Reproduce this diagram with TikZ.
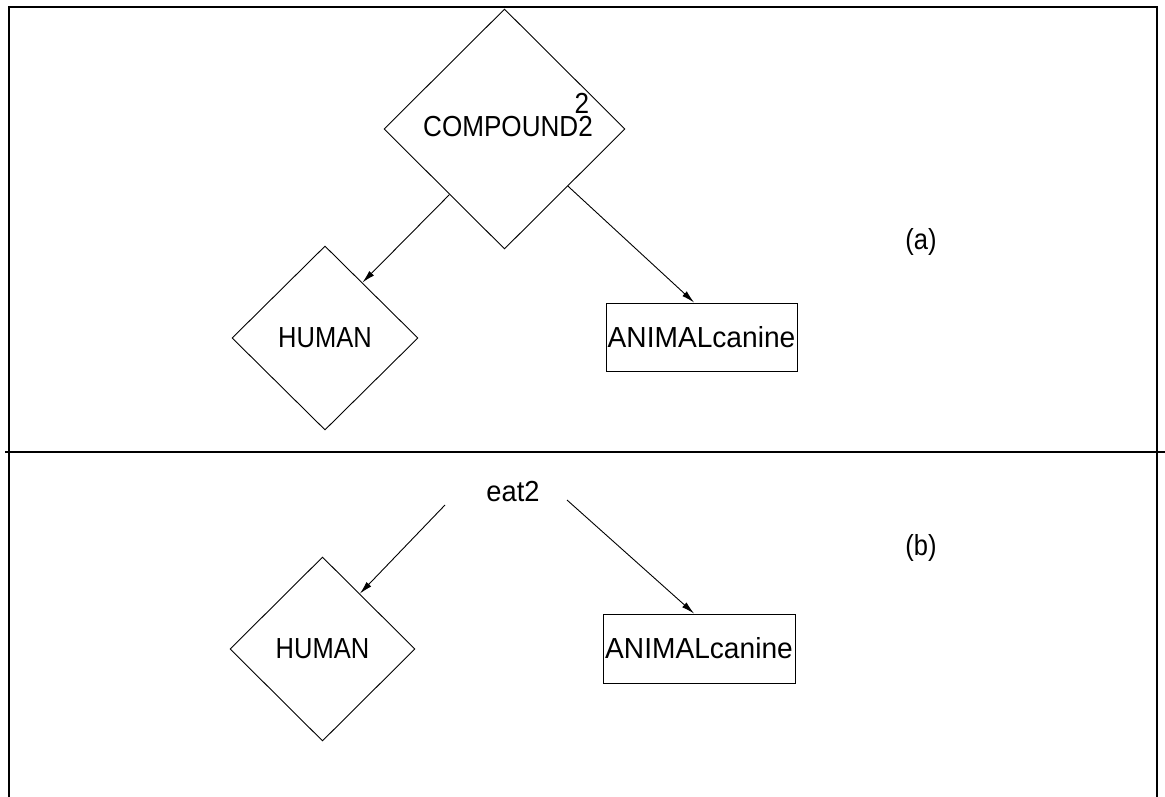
\documentclass[tikz,border=0pt]{standalone}
\usepackage{fontspec}
\setmainfont{Liberation Sans}
\usetikzlibrary{shapes.geometric,arrows.meta,calc}
% narrowed text, as set by the drawing program
\newcommand{\nt}[2][0.9]{\scalebox{#1}[1]{#2}}
\begin{document}
\begin{tikzpicture}[x=1pt,y=-1pt,
  lbl/.style={font=\fontsize{29}{32}\selectfont,inner sep=0pt},
  dmd/.style={diamond,draw,line width=0.9pt,inner sep=0pt,aspect=1,
              font=\fontsize{29}{32}\selectfont},
  box/.style={rectangle,draw,line width=0.9pt,inner sep=0pt,
              font=\fontsize{29}{32}\selectfont},
  link/.style={line width=0.9pt,-{Latex[length=13pt,width=6.5pt]}},
  frame/.style={line width=2pt}]
\useasboundingbox (0,0) rectangle (1165,797);

% outer frame (open at the bottom) and divider
\draw[frame] (9,797) -- (9,7) -- (1157,7) -- (1157,797);
\draw[frame] (5,452) -- (1165,452);

% ---- part (a)
\node[dmd,minimum width=241pt,minimum height=240pt] (C) at (504.5,129) {};
\node[lbl] (Ct) at (508,127) {\nt[0.9]{COMPOUND2}};
\node[lbl] (Cs) at (582,103) {\nt[0.9]{2}};
\node[dmd,minimum width=186pt,minimum height=184pt] (H1) at (325,338) {\nt[0.88]{HUMAN}};
\node[box,minimum width=191pt,minimum height=68pt] (R1) at (701.5,337) {\nt[0.97]{ANIMALcanine}};
\node[lbl] (La) at (921,242) {\nt[0.88]{(a)}};
\draw[link] (C.-130) -- (H1.56);
\draw[link] (C.-42) -- (R1.102);

% ---- part (b)
\node[lbl] (E) at (513,492) {\nt[0.94]{eat2}};
\coordinate (E1) at ($(E)+(-68,13)$);
\coordinate (E2) at ($(E)+(54,8)$);
\node[dmd,minimum width=185pt,minimum height=184pt] (H2) at (322.5,649) {\nt[0.88]{HUMAN}};
\node[box,minimum width=192pt,minimum height=69pt] (R2) at (699,648.5) {\nt[0.97]{ANIMALcanine}};
\node[lbl] (Lb) at (921,548) {\nt[0.88]{(b)}};
\draw[link] (E1) -- (H2.56);
\draw[link] (E2) -- (R2.98);
\end{tikzpicture}
\end{document}
